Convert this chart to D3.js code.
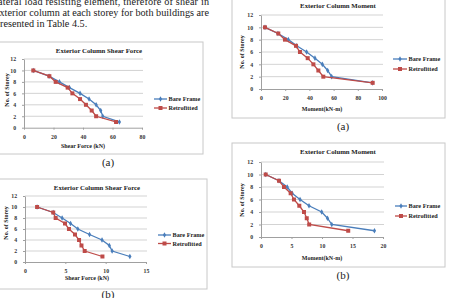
<!DOCTYPE html>
<html>
<head>
<meta charset="utf-8">
<script src="https://cdn.jsdelivr.net/npm/d3@7"></script>
<style>
  body { margin: 0; background: #fff; }
  svg { display: block; }
  text { font-family: "Liberation Serif", "Times New Roman", serif; }
</style>
</head>
<body>
<svg width="449" height="298"></svg>
<script>
// values
const storeys = [10, 9, 8, 7, 6, 5, 4, 3, 2, 1];
const yTicks = [0, 2, 4, 6, 8, 10, 12];
const seriesNames = ["Bare Frame", "Retrofitted"];

const shearA_bare  = [6.3, 17, 24, 30.8, 38, 44.1, 48.9, 52, 53.4, 64.7];
const shearA_retro = [6.3, 17.2, 21.5, 29.6, 32.8, 38, 42, 45.9, 48.9, 62.4];
const shearA_ticks = [0, 20, 40, 60, 80];

const shearB_bare  = [1.5, 3.5, 4.6, 5.65, 6.55, 8.0, 9.55, 10.45, 10.8, 13.0];
const shearB_retro = [1.5, 3.5, 3.8, 4.96, 5.45, 6.2, 6.7, 7.0, 7.4, 9.6];
const shearB_ticks = [0, 5, 10, 15];

const momentA_bare  = [3.3, 14, 22.6, 29.5, 37.7, 44.6, 50.7, 55.1, 58.4, 92.3];
const momentA_retro = [3.3, 14.3, 19.8, 28.9, 32.2, 38.6, 43.3, 47.4, 51.5, 92.3];
const momentA_ticks = [0, 20, 40, 60, 80, 100];

const momentB_bare  = [0.77, 2.95, 4.3, 5.1, 6.4, 7.87, 9.95, 10.9, 11.6, 18.6];
const momentB_retro = [0.77, 2.95, 3.77, 4.86, 5.4, 6.28, 7.05, 7.5, 7.9, 14.3];
const momentB_ticks = [0, 5, 10, 15, 20];

const svg = d3.select("svg");
const blue = "#4a7ebb", red = "#be4b48";

// page text above the charts (cut at the left/top edge like the scan)
const para = [
  "lateral load resisting element, therefore of shear in",
  "exterior column at each storey for both buildings are",
  "presented in Table 4.5."
];
para.forEach((t, i) => {
  const el = svg.append("text")
    .attr("x", -5).attr("y", 4.5 + i * 11)
    .attr("font-size", 10.2).attr("fill", "#1a1a1a")
    .text(t);
  if (i < 2) el.attr("textLength", 214).attr("lengthAdjust", "spacing");
});

function drawChart(c) {
  const g = svg.append("g");
  g.append("rect")
    .attr("x", c.frame[0]).attr("y", c.frame[1])
    .attr("width", c.frame[2] - c.frame[0]).attr("height", c.frame[3] - c.frame[1])
    .attr("fill", "#fff").attr("stroke", "#c8c8c8").attr("stroke-width", 1);

  const x = d3.scaleLinear().domain([0, c.xTicks[c.xTicks.length - 1]]).range([c.px0, c.px1]);
  const y = d3.scaleLinear().domain([0, 12]).range([c.py0, c.py1]);

  // gridlines
  g.selectAll(".grid").data(yTicks.slice(1)).join("line")
    .attr("x1", c.px0).attr("x2", c.px1 + 1)
    .attr("y1", d => y(d)).attr("y2", d => y(d))
    .attr("stroke", "#c8c8c8").attr("stroke-width", 0.8);

  const xAxis = g.append("g").attr("transform", `translate(0,${c.py0})`)
    .call(d3.axisBottom(x).tickValues(c.xTicks).tickSize(2).tickSizeOuter(0));
  const yAxis = g.append("g").attr("transform", `translate(${c.px0},0)`)
    .call(d3.axisLeft(y).tickValues(yTicks).tickSize(2).tickSizeOuter(0));
  [xAxis, yAxis].forEach(a => {
    a.select(".domain").attr("stroke", "#a0a0a0");
    a.selectAll(".tick line").attr("stroke", "#a0a0a0");
    a.selectAll("text").attr("font-size", 5.8).attr("font-weight", "bold")
      .attr("fill", "#333").style("font-family", "Liberation Serif, serif");
  });
  xAxis.selectAll("text").attr("dy", "1.1em");
  yAxis.selectAll("text").attr("dx", "-0.5em");

  g.append("text").attr("x", c.title[0]).attr("y", c.title[1])
    .attr("text-anchor", "middle").attr("font-size", 6.8).attr("font-weight", "bold")
    .attr("fill", "#222").text(c.titleText);
  g.append("text").attr("x", c.xTitle[0]).attr("y", c.xTitle[1])
    .attr("text-anchor", "middle").attr("font-size", 6).attr("font-weight", "bold")
    .attr("fill", "#222").text(c.xTitleText);
  g.append("text")
    .attr("transform", `translate(${c.yTitle[0]},${c.yTitle[1]}) rotate(-90)`)
    .attr("text-anchor", "middle").attr("font-size", 6).attr("font-weight", "bold")
    .attr("fill", "#222").text("No. of Storey");

  const line = d3.line().x(d => x(d[0])).y(d => y(d[1]));
  const series = [
    { vals: c.bare, color: blue, shape: d3.symbolDiamond, size: 9 },
    { vals: c.retro, color: red, shape: d3.symbolSquare, size: 16 }
  ];
  series.forEach(s => {
    const pts = s.vals.map((v, i) => [v, storeys[i]]);
    g.append("path").attr("d", line(pts)).attr("fill", "none")
      .attr("stroke", s.color).attr("stroke-width", 1.3);
    g.selectAll(null).data(pts).join("path")
      .attr("transform", d => `translate(${x(d[0])},${y(d[1])})`)
      .attr("d", d3.symbol().type(s.shape).size(s.size))
      .attr("fill", s.color);
  });

  // legend
  series.forEach((s, i) => {
    const ly = c.legend[1] + i * c.legend[3];
    g.append("line").attr("x1", c.legend[0]).attr("x2", c.legend[0] + c.legend[2])
      .attr("y1", ly).attr("y2", ly).attr("stroke", s.color).attr("stroke-width", 1.3);
    g.append("path")
      .attr("transform", `translate(${c.legend[0] + c.legend[2] / 2},${ly})`)
      .attr("d", d3.symbol().type(s.shape).size(s.size)).attr("fill", s.color);
    g.append("text").attr("x", c.legend[0] + c.legend[2] + 1.5).attr("y", ly + 2)
      .attr("font-size", 6.2).attr("font-weight", "bold").attr("fill", "#222")
      .text(seriesNames[i]);
  });

  svg.append("text").attr("x", c.caption[0]).attr("y", c.caption[1])
    .attr("text-anchor", "middle").attr("font-size", 11).attr("fill", "#222")
    .text(c.captionText);
}

drawChart({
  frame: [-2, 42, 203, 154], px0: 24, px1: 142, py0: 127.7, py1: 59,
  xTicks: shearA_ticks, bare: shearA_bare, retro: shearA_retro,
  title: [99, 52.5], titleText: "Exterior Column Shear Force",
  xTitle: [83, 147.5], xTitleText: "Shear Force (kN)", yTitle: [9, 90],
  legend: [154, 99, 13, 9], caption: [108, 166], captionText: "(a)"
});
drawChart({
  frame: [-2, 179, 207, 289], px0: 25, px1: 146, py0: 262, py1: 196,
  xTicks: shearB_ticks, bare: shearB_bare, retro: shearB_retro,
  title: [97, 189.5], titleText: "Exterior Column Shear Force",
  xTitle: [87, 280], xTitleText: "Shear Force (kN)", yTitle: [8, 223],
  legend: [158, 235, 13, 8.5], caption: [108, 298], captionText: "(b)"
});
drawChart({
  frame: [232, -2, 445, 118], px0: 261, px1: 382, py0: 89, py1: 15,
  xTicks: momentA_ticks, bare: momentA_bare, retro: momentA_retro,
  title: [338, 7.5], titleText: "Exterior Column Moment",
  xTitle: [322, 110.5], xTitleText: "Moment(kN-m)", yTitle: [244, 52],
  legend: [393, 59, 14, 10], caption: [343, 130], captionText: "(a)"
});
drawChart({
  frame: [232, 143, 445, 267], px0: 261, px1: 383, py0: 237, py1: 162,
  xTicks: momentB_ticks, bare: momentB_bare, retro: momentB_retro,
  title: [338, 154], titleText: "Exterior Column Moment",
  xTitle: [322, 259.5], xTitleText: "Moment(kN-m)", yTitle: [244, 200],
  legend: [395, 206, 12, 10], caption: [343, 279], captionText: "(b)"
});
</script>
</body>
</html>
